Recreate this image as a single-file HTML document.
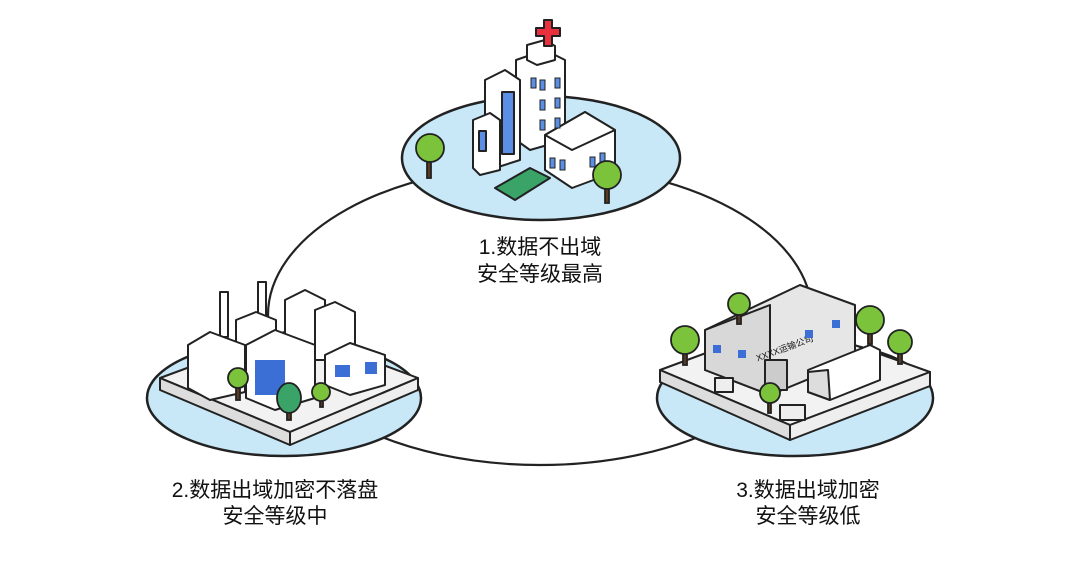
<!DOCTYPE html>
<html><head><meta charset="utf-8"><style>
body{margin:0;background:#fff;width:1080px;height:566px;overflow:hidden}
svg{display:block}
text{font-family:"Liberation Sans","Noto Sans CJK SC",sans-serif;font-size:21px;fill:#111}
</style></head><body>
<svg width="1080" height="566" viewBox="0 0 1080 566">
<g stroke="#222" stroke-width="2.2" fill="none">
<ellipse cx="540" cy="315" rx="272" ry="150"/>
</g>
<ellipse cx="541" cy="158" rx="139" ry="62" fill="#c8e8f8" stroke="#222" stroke-width="2.5"/>
<g stroke="#222" stroke-width="2" stroke-linejoin="round">
<path d="M516 60 L545 50 L565 60 L565 140 L530 150 L516 140Z" fill="#fff"/>
<path d="M527 45 L545 40 L555 46 L555 60 L537 65 L527 60Z" fill="#fff"/>
<path d="M536 28h8v-8h8v8h8v8h-8v10h-8v-10h-8Z" fill="#e8303f"/>
<path d="M485 80 L505 70 L520 80 L520 160 L495 168 L485 160Z" fill="#fff"/>
<rect x="502" y="92" width="12" height="62" fill="#5b8fe6"/>
<path d="M473 120 L490 113 L500 120 L500 170 L480 175 L473 168Z" fill="#fff"/>
<rect x="479" y="131" width="7" height="20" fill="#5b8fe6"/>
<path d="M545 135 L585 112 L615 130 L615 172 L572 188 L545 170Z" fill="#fff"/>
<path d="M545 135 L585 112 L615 130 L572 150Z" fill="#fff"/>
<path d="M495 188 L530 168 L550 178 L515 200Z" fill="#3aa468"/>
</g>
<g fill="#5b8fe6" stroke="#222" stroke-width="1">
<rect x="531" y="78" width="5" height="10"/><rect x="540" y="80" width="5" height="10"/><rect x="555" y="78" width="5" height="10"/>
<rect x="540" y="100" width="5" height="10"/><rect x="555" y="98" width="5" height="10"/>
<rect x="540" y="120" width="5" height="10"/><rect x="555" y="118" width="5" height="10"/>
<rect x="550" y="158" width="5" height="10"/><rect x="560" y="160" width="5" height="10"/><rect x="590" y="157" width="5" height="10"/><rect x="600" y="153" width="5" height="10"/>
</g>
<g stroke="#222" stroke-width="1.8">
<rect x="427" y="160" width="4" height="18" fill="#5a3a20"/>
<circle cx="430" cy="148" r="14" fill="#7cc33c"/>
<rect x="605" y="185" width="4" height="18" fill="#5a3a20"/>
<circle cx="607" cy="175" r="14" fill="#7cc33c"/>
</g>
<ellipse cx="284" cy="398" rx="137" ry="58" fill="#c8e8f8" stroke="#222" stroke-width="2.5"/>
<g stroke="#222" stroke-width="2" stroke-linejoin="round" fill="#fff">
<path d="M160 378 L290 330 L418 378 L290 432Z" fill="#f2f2f2"/>
<path d="M160 378 L290 432 L290 445 L160 390Z" fill="#ddd"/>
<path d="M290 432 L418 378 L418 390 L290 445Z" fill="#eee"/>
<rect x="220" y="292" width="8" height="45"/><rect x="258" y="282" width="8" height="50"/>
<path d="M285 300 L305 290 L325 300 L325 360 L285 360Z"/>
<path d="M315 310 L335 302 L355 312 L355 360 L315 360Z"/>
<path d="M236 320 L256 312 L276 320 L276 355 L236 355Z"/>
<path d="M188 345 L210 332 L245 345 L245 392 L210 400 L188 388Z"/>
<path d="M246 345 L275 330 L315 345 L315 398 L275 410 L246 398Z"/>
<path d="M325 355 L350 343 L385 355 L385 385 L350 395 L325 385Z"/>
</g>
<g fill="#3b6fd6"><rect x="255" y="360" width="30" height="35"/><rect x="335" y="365" width="15" height="12"/><rect x="365" y="362" width="12" height="12"/></g>
<g stroke="#222" stroke-width="1.8">
<rect x="236" y="385" width="4" height="15" fill="#5a3a20"/><circle cx="238" cy="378" r="10" fill="#7cc33c"/>
<rect x="287" y="405" width="4" height="15" fill="#5a3a20"/><ellipse cx="289" cy="398" rx="12" ry="15" fill="#3aa468"/>
<rect x="320" y="395" width="3" height="12" fill="#5a3a20"/><circle cx="321" cy="392" r="9" fill="#7cc33c"/>
</g>
<ellipse cx="795" cy="398" rx="138" ry="58" fill="#c8e8f8" stroke="#222" stroke-width="2.5"/>
<g stroke="#222" stroke-width="2" stroke-linejoin="round" fill="#fff">
<path d="M660 370 L790 322 L930 372 L790 425Z" fill="#f2f2f2"/>
<path d="M660 370 L790 425 L790 440 L660 382Z" fill="#ddd"/>
<path d="M790 425 L930 372 L930 386 L790 440Z" fill="#eee"/>
<path d="M705 330 L800 285 L855 305 L855 360 L770 395 L705 370Z" fill="#e6e6e6"/>
<path d="M705 330 L770 305 L770 395 L705 370Z" fill="#d8d8d8"/>
<rect x="765" y="360" width="22" height="30" fill="#ccc"/>
<path d="M808 370 L870 345 L880 350 L880 380 L830 400 L808 392Z"/>
<path d="M808 372 L828 370 L830 400 L808 392Z" fill="#ddd"/>
<rect x="780" y="405" width="25" height="15" fill="#eee"/>
<rect x="715" y="378" width="18" height="14" fill="#eee"/>
</g>
<text x="755" y="353" transform="rotate(-20 780 350)" style="font-size:9px">XXXX运输公司</text>
<g fill="#3b6fd6"><rect x="713" y="345" width="8" height="8"/><rect x="738" y="350" width="8" height="8"/><rect x="805" y="330" width="8" height="8"/><rect x="832" y="320" width="8" height="8"/></g>
<g stroke="#222" stroke-width="1.8">
<rect x="683" y="350" width="4" height="15" fill="#5a3a20"/><circle cx="685" cy="340" r="14" fill="#7cc33c"/>
<rect x="737" y="312" width="4" height="12" fill="#5a3a20"/><circle cx="739" cy="304" r="11" fill="#7cc33c"/>
<rect x="868" y="330" width="4" height="14" fill="#5a3a20"/><circle cx="870" cy="320" r="14" fill="#7cc33c"/>
<rect x="898" y="350" width="4" height="14" fill="#5a3a20"/><circle cx="900" cy="342" r="12" fill="#7cc33c"/>
<rect x="768" y="400" width="3" height="13" fill="#5a3a20"/><circle cx="770" cy="393" r="10" fill="#7cc33c"/>
</g>
<text x="540" y="254" text-anchor="middle">1.数据不出域</text>
<text x="540" y="281" text-anchor="middle">安全等级最高</text>
<text x="275" y="497" text-anchor="middle">2.数据出域加密不落盘</text>
<text x="275" y="523" text-anchor="middle">安全等级中</text>
<text x="808" y="497" text-anchor="middle">3.数据出域加密</text>
<text x="808" y="523" text-anchor="middle">安全等级低</text>
</svg>
</body></html>
